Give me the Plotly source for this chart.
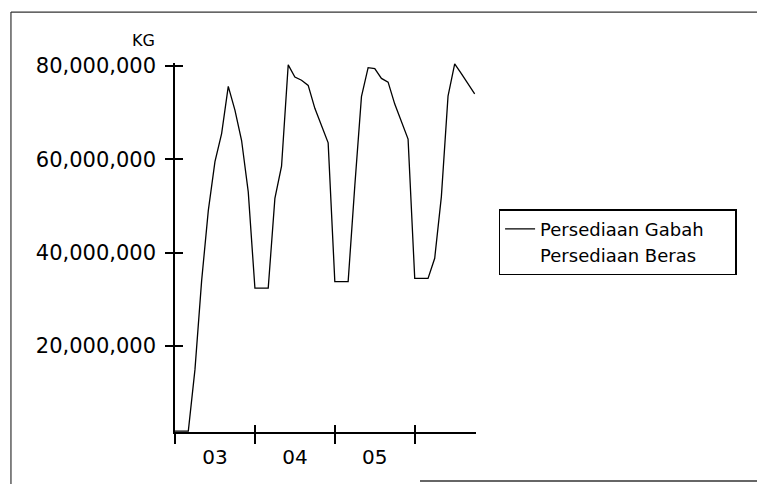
import plotly.graph_objects as go

# Bulan ke-0 = Januari 2003 ... bulan ke-45 = Oktober 2006
bulan = list(range(46))

persediaan_gabah = [
    1_800_000, 1_800_000, 1_800_000, 15_000_000, 34_000_000, 49_000_000,
    59_500_000, 65_500_000, 75_600_000, 70_500_000, 64_000_000, 53_000_000,
    32_400_000, 32_400_000, 32_400_000, 51_600_000, 58_500_000, 80_200_000,
    77_600_000, 76_900_000, 75_800_000, 70_900_000, 67_000_000, 63_500_000,
    33_800_000, 33_800_000, 33_800_000, 54_300_000, 73_400_000, 79_600_000,
    79_400_000, 77_300_000, 76_500_000, 71_800_000, 68_000_000, 64_300_000,
    34_500_000, 34_500_000, 34_500_000, 38_800_000, 52_000_000, 73_500_000,
    80_400_000, 78_300_000, 76_200_000, 74_000_000,
]
# Persediaan Beras: no line is visible in the chart
persediaan_beras = [None] * len(bulan)

y_ticks = [20_000_000, 40_000_000, 60_000_000, 80_000_000]
x_ticks = [0, 12, 24, 36]
tahun_pos = [6, 18, 30]
tahun_label = ["03", "04", "05"]

x_range = [0, 45.2]
y_range = [1_600_000, 80_600_000]

FONT = "DejaVu Sans"

fig = go.Figure()
fig.add_trace(go.Scatter(
    x=bulan, y=persediaan_gabah, mode="lines", name="Persediaan Gabah",
    line=dict(color="black", width=1.3),
))
fig.add_trace(go.Scatter(
    x=bulan, y=persediaan_beras, mode="lines", name="Persediaan Beras",
    line=dict(color="white", width=1.3), xaxis="x2", yaxis="y2",
))

fig.update_layout(
    width=757, height=484,
    margin=dict(l=175, r=281, t=63, b=52),
    paper_bgcolor="white", plot_bgcolor="white",
    font=dict(family=FONT, color="black"),
    showlegend=True,
    legend=dict(
        orientation="h",
        x=1.075, y=0.604, xanchor="left", yanchor="top",
        bordercolor="black", borderwidth=1.5, bgcolor="white",
        font=dict(size=18, family=FONT, color="black"),
        tracegroupgap=0, entrywidth=190, entrywidthmode="pixels",
        itemwidth=30,
    ),
    xaxis=dict(
        range=x_range, tickmode="array", tickvals=tahun_pos, ticktext=tahun_label,
        ticks="", ticklabelstandoff=6,
        tickfont=dict(size=20, family=FONT, color="black"),
        minor=dict(tickmode="array", tickvals=x_ticks, ticks="outside",
                   ticklen=10, tickwidth=1.5, tickcolor="black", showgrid=False),
        showline=True, linecolor="black", linewidth=1.5,
        showgrid=False, zeroline=False,
    ),
    xaxis2=dict(
        overlaying="x", anchor="y2", side="bottom", range=x_range,
        tickmode="array", tickvals=x_ticks, ticks="inside", ticklen=7,
        tickwidth=1.5, tickcolor="black", showticklabels=False,
        showline=False, showgrid=False, zeroline=False,
    ),
    yaxis=dict(
        range=y_range, tickmode="array", tickvals=y_ticks, tickformat=",d",
        ticks="outside", ticklen=8, tickwidth=1.5, tickcolor="black",
        ticklabelstandoff=5,
        tickfont=dict(size=21, family=FONT, color="black"),
        showline=True, linecolor="black", linewidth=1.5,
        showgrid=False, zeroline=False,
    ),
    yaxis2=dict(
        overlaying="y", anchor="x2", side="left", range=y_range,
        tickmode="array", tickvals=y_ticks, ticks="inside", ticklen=8,
        tickwidth=1.5, tickcolor="black", showticklabels=False,
        showline=False, showgrid=False, zeroline=False,
    ),
    annotations=[dict(
        text="KG", xref="paper", yref="paper", x=-0.061, y=1.060,
        xanchor="right", yanchor="middle", showarrow=False,
        font=dict(size=16, family=FONT, color="black"),
    )],
    shapes=[
        dict(type="line", xref="paper", yref="paper", x0=-0.545, x1=2.0,
             y0=1.138, y1=1.138, line=dict(color="#333333", width=1.2)),
        dict(type="line", xref="paper", yref="paper", x0=-0.545, x1=-0.545,
             y0=-0.2, y1=1.138, line=dict(color="#333333", width=1.2)),
        dict(type="line", xref="paper", yref="paper", x0=0.814, x1=2.0,
             y0=-0.133, y1=-0.133, line=dict(color="#333333", width=1.5)),
    ],
)

fig.write_html("out.html", config={"displayModeBar": False},
               post_script="document.body.style.margin='0';")
